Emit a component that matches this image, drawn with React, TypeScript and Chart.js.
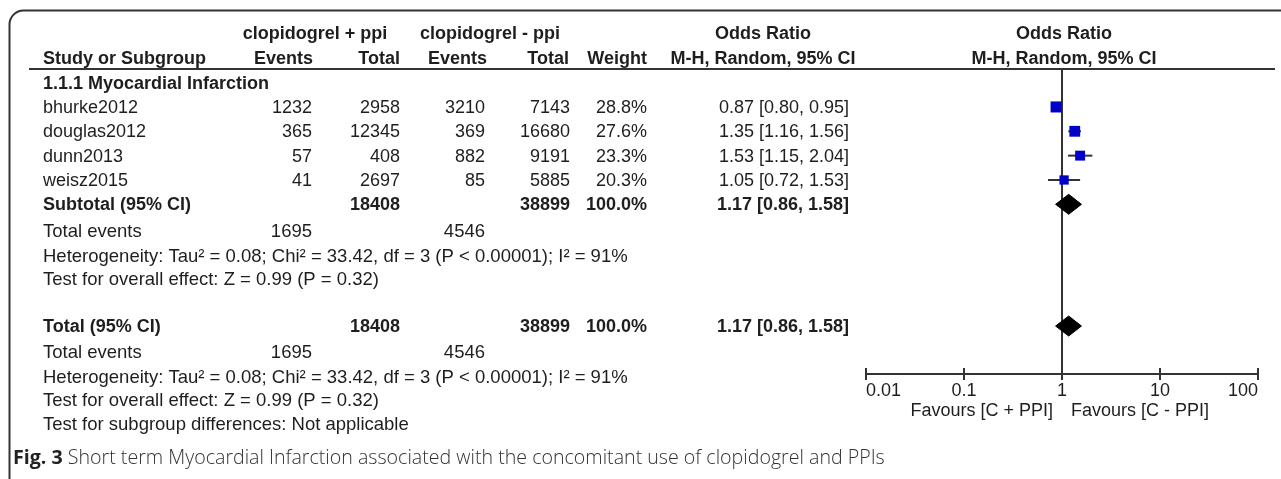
import React, { useEffect, useRef } from 'react';
import { Chart, registerables } from 'chart.js';

Chart.register(...registerables);

// ---------- data ----------
const studies = ['bhurke2012', 'douglas2012', 'dunn2013', 'weisz2015'];
const eventsPpi = [1232, 365, 57, 41];
const totalPpi = [2958, 12345, 408, 2697];
const eventsNoPpi = [3210, 369, 882, 85];
const totalNoPpi = [7143, 16680, 9191, 5885];
const weights = [28.8, 27.6, 23.3, 20.3];
const oddsRatio = [0.87, 1.35, 1.53, 1.05];
const ciLow = [0.8, 1.16, 1.15, 0.72];
const ciHigh = [0.95, 1.56, 2.04, 1.53];

const pooledOR = [1.17];
const pooledLow = [0.86];
const pooledHigh = [1.58];
const pooledTotals = [18408, 38899];
const pooledEvents = [1695, 4546];
const pooledWeight = [100.0];

const xTicks = [0.01, 0.1, 1, 10, 100];

const groupHeaders = ['clopidogrel + ppi', 'clopidogrel - ppi'];
const columnHeaders = ['Study or Subgroup', 'Events', 'Total', 'Events', 'Total', 'Weight'];
const orHeaders = ['Odds Ratio', 'M-H, Random, 95% CI'];
const subgroupLabel = '1.1.1 Myocardial Infarction';
const heterogeneityText = 'Heterogeneity: Tau² = 0.08; Chi² = 33.42, df = 3 (P < 0.00001); I² = 91%';
const overallEffectText = 'Test for overall effect: Z = 0.99 (P = 0.32)';
const subgroupDiffText = 'Test for subgroup differences: Not applicable';
const favoursLabels = ['Favours [C + PPI]', 'Favours [C - PPI]'];
const captionBold = 'Fig. 3';
const captionText = ' Short term Myocardial Infarction associated with the concomitant use of clopidogrel and PPIs';

// ---------- layout ----------
const W = 1281;
const H = 479;
const FONT = '"Liberation Sans", Arial, Helvetica, sans-serif';
const TXT = '#1e1e1e';
const LINE = '#333';
const COL = { name: 43, ev1: 312, tot1: 400, ev2: 485, tot2: 570, weight: 647, or: 849, grp1: 315, grp2: 490, orHead: 763 };
const ROW = {
  head1: -2.02, head2: -1.02, group: 0, subtotal: 5, totEv1: 6.1, het1: 7.1, test1: 8.05,
  total: 10, totEv2: 11.05, het2: 12.08, test2: 13.04, subgroup: 14,
};
const Y_MIN = -0.6;
const Y_MAX = 11.97;
const SQ_MAX_R = 7.8;
const DIAMOND_HALF = 0.41;
const FOOT_SIZE = 18.5;

const fmt2 = (v: number) => v.toFixed(2);
const orLabel = (o: number, l: number, h: number) => `${fmt2(o)} [${fmt2(l)}, ${fmt2(h)}]`;

const forestPlugin = {
  id: 'forestTable',
  beforeDatasetsDraw(chart: any) {
    const { ctx, chartArea, scales } = chart;
    const x1 = scales.x.getPixelForValue(1);
    ctx.save();
    ctx.strokeStyle = LINE;
    ctx.lineWidth = 2;
    ctx.beginPath();
    ctx.moveTo(Math.round(x1), chartArea.top);
    ctx.lineTo(Math.round(x1), chartArea.bottom);
    ctx.stroke();
    ctx.restore();
  },
  afterDraw(chart: any) {
    const { ctx, chartArea, scales } = chart;
    const yS = scales.y;
    const xS = scales.x;
    const yOf = (k: number) => yS.getPixelForValue(k) + 1;
    ctx.save();

    // frame with rounded top-left corner
    ctx.strokeStyle = LINE;
    ctx.lineWidth = 2;
    const R = 14;
    ctx.beginPath();
    ctx.moveTo(9.5, H);
    ctx.lineTo(9.5, 10.5 + R);
    ctx.arcTo(9.5, 10.5, 9.5 + R, 10.5, R);
    ctx.lineTo(W, 10.5);
    ctx.stroke();

    // header rule
    ctx.beginPath();
    ctx.moveTo(29, chartArea.top + 1);
    ctx.lineTo(1275, chartArea.top + 1);
    ctx.stroke();

    // upper halves of axis ticks
    xTicks.forEach((v) => {
      const px = Math.round(xS.getPixelForValue(v));
      ctx.beginPath();
      ctx.moveTo(px, chartArea.bottom - 6);
      ctx.lineTo(px, chartArea.bottom);
      ctx.stroke();
    });

    const txt = (s: string, x: number, y: number, align: CanvasTextAlign, bold = false, size = 18) => {
      ctx.font = `${bold ? 'bold ' : ''}${size}px ${FONT}`;
      ctx.textAlign = align;
      ctx.textBaseline = 'middle';
      ctx.fillStyle = TXT;
      ctx.fillText(s, x, y);
    };

    const plotCenter = (chartArea.left + chartArea.right) / 2 + 2;

    // headers
    txt(groupHeaders[0], COL.grp1, yOf(ROW.head1), 'center', true);
    txt(groupHeaders[1], COL.grp2, yOf(ROW.head1), 'center', true);
    txt(orHeaders[0], COL.orHead, yOf(ROW.head1), 'center', true);
    txt(orHeaders[0], plotCenter, yOf(ROW.head1), 'center', true);
    txt(columnHeaders[0], COL.name, yOf(ROW.head2), 'left', true);
    txt(columnHeaders[1], COL.ev1 + 1, yOf(ROW.head2), 'right', true);
    txt(columnHeaders[2], COL.tot1, yOf(ROW.head2), 'right', true);
    txt(columnHeaders[3], COL.ev2 + 2, yOf(ROW.head2), 'right', true);
    txt(columnHeaders[4], COL.tot2 - 1, yOf(ROW.head2), 'right', true);
    txt(columnHeaders[5], COL.weight, yOf(ROW.head2), 'right', true);
    txt(orHeaders[1], COL.orHead, yOf(ROW.head2), 'center', true);
    txt(orHeaders[1], plotCenter, yOf(ROW.head2), 'center', true);

    // subgroup label
    txt(subgroupLabel, COL.name, yOf(ROW.group), 'left', true);

    // study rows
    studies.forEach((s, i) => {
      const y = yOf(i + 1);
      txt(s, COL.name, y, 'left');
      txt(String(eventsPpi[i]), COL.ev1, y, 'right');
      txt(String(totalPpi[i]), COL.tot1, y, 'right');
      txt(String(eventsNoPpi[i]), COL.ev2, y, 'right');
      txt(String(totalNoPpi[i]), COL.tot2, y, 'right');
      txt(`${weights[i].toFixed(1)}%`, COL.weight, y, 'right');
      txt(orLabel(oddsRatio[i], ciLow[i], ciHigh[i]), COL.or, y, 'right');
    });

    const pooledRow = (label: string, k: number) => {
      const y = yOf(k);
      txt(label, COL.name, y, 'left', true);
      txt(String(pooledTotals[0]), COL.tot1, y, 'right', true);
      txt(String(pooledTotals[1]), COL.tot2, y, 'right', true);
      txt(`${pooledWeight[0].toFixed(1)}%`, COL.weight, y, 'right', true);
      txt(orLabel(pooledOR[0], pooledLow[0], pooledHigh[0]), COL.or, y, 'right', true);
    };
    const footer = (kEv: number, kHet: number, kTest: number) => {
      txt('Total events', COL.name, yOf(kEv), 'left', false, FOOT_SIZE);
      txt(String(pooledEvents[0]), COL.ev1, yOf(kEv), 'right', false, FOOT_SIZE);
      txt(String(pooledEvents[1]), COL.ev2, yOf(kEv), 'right', false, FOOT_SIZE);
      txt(heterogeneityText, COL.name, yOf(kHet), 'left', false, FOOT_SIZE);
      txt(overallEffectText, COL.name, yOf(kTest), 'left', false, FOOT_SIZE);
    };

    pooledRow('Subtotal (95% CI)', ROW.subtotal);
    footer(ROW.totEv1, ROW.het1, ROW.test1);
    pooledRow('Total (95% CI)', ROW.total);
    footer(ROW.totEv2, ROW.het2, ROW.test2);
    txt(subgroupDiffText, COL.name, yOf(ROW.subgroup), 'left', false, FOOT_SIZE);

    // favours labels
    const x1 = xS.getPixelForValue(1);
    const fy = chartArea.bottom + 37;
    txt(favoursLabels[0], x1 - 9, fy, 'right');
    txt(favoursLabels[1], x1 + 9, fy, 'left');

    // caption fitted to its width
    const capW = 872;
    ctx.font = `bold 16px "Open Sans", sans-serif`;
    const wb = ctx.measureText(captionBold).width;
    ctx.font = `300 16px "Open Sans", sans-serif`;
    const wr = ctx.measureText(captionText).width;
    const size = (16 * capW) / (wb + wr);
    const cy = 458;
    ctx.textAlign = 'left';
    ctx.textBaseline = 'middle';
    ctx.fillStyle = '#222';
    ctx.font = `bold ${size}px "Open Sans", sans-serif`;
    ctx.fillText(captionBold, 13, cy);
    const wb2 = ctx.measureText(captionBold).width;
    ctx.fillStyle = '#333';
    ctx.font = `300 ${size}px "Open Sans", sans-serif`;
    ctx.fillText(captionText, 13 + wb2, cy);

    ctx.restore();
  },
};

export default function App() {
  const ref = useRef<HTMLCanvasElement>(null);

  useEffect(() => {
    const canvas = ref.current;
    if (!canvas) return;
    const rows = studies.map((_, i) => i + 1);
    const maxW = Math.max(...weights);

    const datasets: any[] = [];
    studies.forEach((s, i) => {
      datasets.push({
        type: 'scatter',
        label: `${s} 95% CI`,
        showLine: true,
        data: [
          { x: ciLow[i], y: rows[i] },
          { x: ciHigh[i], y: rows[i] },
        ],
        borderColor: LINE,
        borderWidth: 2,
        pointRadius: 0,
        order: 3,
      });
    });
    datasets.push({
      type: 'scatter',
      label: 'Study odds ratio',
      data: studies.map((_, i) => ({ x: oddsRatio[i], y: rows[i] })),
      pointStyle: 'rect',
      pointRadius: weights.map((w) => SQ_MAX_R * Math.sqrt(w / maxW)),
      backgroundColor: '#0000c8',
      borderWidth: 0,
      order: 2,
    });
    [ROW.subtotal, ROW.total].forEach((r, j) => {
      datasets.push({
        type: 'scatter',
        label: j === 0 ? 'Subtotal' : 'Total',
        showLine: true,
        fill: 'shape',
        data: [
          { x: pooledLow[0], y: r },
          { x: pooledOR[0], y: r - DIAMOND_HALF },
          { x: pooledHigh[0], y: r },
          { x: pooledOR[0], y: r + DIAMOND_HALF },
          { x: pooledLow[0], y: r },
        ],
        borderColor: '#000',
        backgroundColor: '#000',
        borderWidth: 1,
        pointRadius: 0,
        order: 1,
      });
    });

    const chart = new Chart(canvas, {
      type: 'scatter',
      data: { datasets },
      options: {
        responsive: false,
        animation: false,
        events: [],
        layout: { padding: { left: 866, right: 23, top: 68, bottom: 0 } },
        plugins: { legend: { display: false }, tooltip: { enabled: false } },
        scales: {
          x: {
            type: 'logarithmic',
            min: 0.01,
            max: 100,
            position: 'bottom',
            afterBuildTicks: (s: any) => {
              s.ticks = xTicks.map((v) => ({ value: v }));
            },
            afterFit: (s: any) => {
              s.height = 105;
            },
            ticks: {
              align: 'inner',
              padding: 0,
              autoSkip: false,
              maxRotation: 0,
              color: TXT,
              font: { family: FONT, size: 18 },
              callback: (v: any) => String(v),
            },
            grid: { display: true, drawOnChartArea: false, drawTicks: true, tickLength: 6, color: LINE, lineWidth: 2 },
            border: { display: true, color: LINE, width: 2 },
          },
          y: { type: 'linear', display: false, min: Y_MIN, max: Y_MAX, reverse: true },
        },
      } as any,
      plugins: [forestPlugin],
    });
    return () => chart.destroy();
  }, []);

  return (
    <div style={{ position: 'absolute', left: 0, top: 0, width: W, height: H, background: '#fff' }}>
      <canvas ref={ref} width={W} height={H} style={{ display: 'block' }} />
    </div>
  );
}
